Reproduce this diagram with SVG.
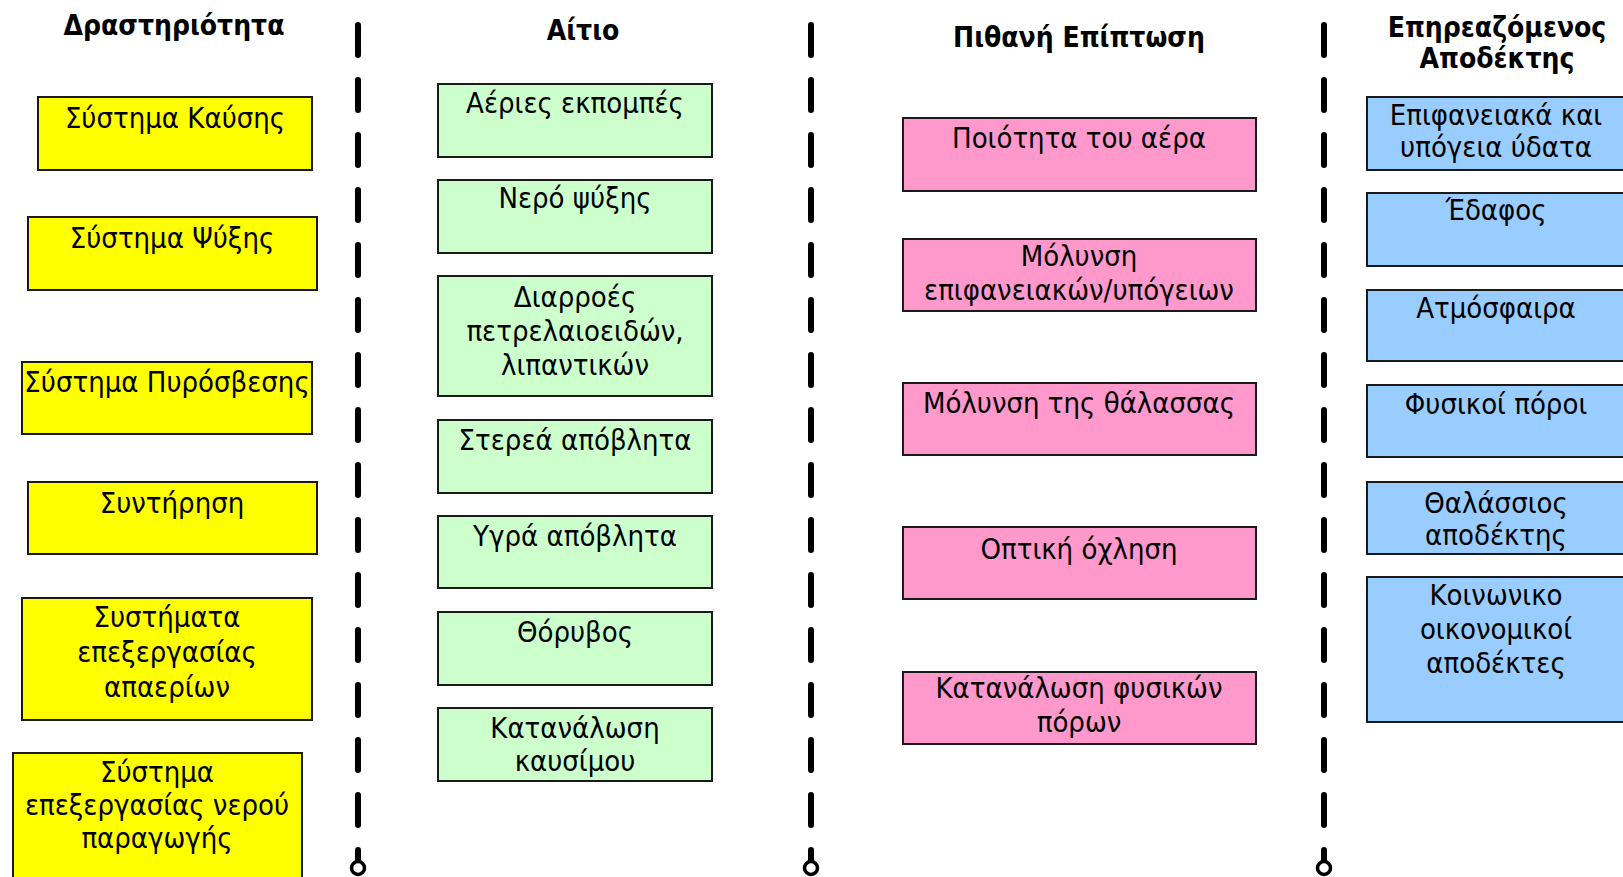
<svg xmlns="http://www.w3.org/2000/svg" width="1623" height="877" viewBox="0 0 1623 877">
  <style>
    text { font-family: "DejaVu Sans Condensed", "DejaVu Sans", Verdana, sans-serif; font-stretch: condensed; fill: #000; text-anchor: middle; }
    .head { font-size: 28px; font-weight: bold; }
    .lbl { font-size: 29px; }
    .box { stroke: #1a1a1a; stroke-width: 2; }
    .act { fill: #ffff00; }
    .cause { fill: #ccffcc; }
    .impact { fill: #ff99cc; }
    .recv { fill: #99ccff; }
    .sep { stroke: #000; stroke-width: 6; stroke-linecap: round; stroke-dasharray: 30 25; fill: none; }
    .end { stroke: #000; stroke-width: 3.5; fill: #fff; }
  </style>
  <rect width="1623" height="877" fill="#fff"/>

  <!-- column separators -->
  <g id="connectors">
    <line class="sep" x1="358" y1="25" x2="358" y2="860"/>
    <circle class="end" cx="358" cy="868" r="6.5"/>
    <line class="sep" x1="811" y1="25" x2="811" y2="860"/>
    <circle class="end" cx="811" cy="868" r="6.5"/>
    <line class="sep" x1="1324" y1="25" x2="1324" y2="860"/>
    <circle class="end" cx="1324" cy="868" r="6.5"/>
  </g>

  <!-- column headings -->
  <g id="headings">
    <text class="head" x="174" y="35">Δραστηριότητα</text>
    <text class="head" x="583" y="40">Αίτιο</text>
    <text class="head" x="1079" y="47">Πιθανή Επίπτωση</text>
    <text class="head" x="1497" y="37">Επηρεαζόμενος</text>
    <text class="head" x="1497" y="68">Αποδέκτης</text>
  </g>

  <!-- activities -->
  <g id="act1"><rect class="box act" x="38" y="97" width="274" height="73"/><text class="lbl" x="175" y="128">Σύστημα Καύσης</text></g>
  <g id="act2"><rect class="box act" x="28" y="217" width="289" height="73"/><text class="lbl" x="172" y="248">Σύστημα Ψύξης</text></g>
  <g id="act3"><rect class="box act" x="22" y="362" width="290" height="72"/><text class="lbl" x="167" y="392">Σύστημα Πυρόσβεσης</text></g>
  <g id="act4"><rect class="box act" x="28" y="482" width="289" height="72"/><text class="lbl" x="172" y="513">Συντήρηση</text></g>
  <g id="act5"><rect class="box act" x="22" y="598" width="290" height="122"/>
    <text class="lbl" x="167" y="627">Συστήματα</text>
    <text class="lbl" x="167" y="662">επεξεργασίας</text>
    <text class="lbl" x="167" y="697">απαερίων</text></g>
  <g id="act6"><rect class="box act" x="13" y="753" width="289" height="130"/>
    <text class="lbl" x="157" y="782">Σύστημα</text>
    <text class="lbl" x="157" y="815">επεξεργασίας νερού</text>
    <text class="lbl" x="157" y="848">παραγωγής</text></g>

  <!-- causes -->
  <g id="cause1"><rect class="box cause" x="438" y="84" width="274" height="73"/><text class="lbl" x="575" y="113">Αέριες εκπομπές</text></g>
  <g id="cause2"><rect class="box cause" x="438" y="180" width="274" height="73"/><text class="lbl" x="575" y="208">Νερό ψύξης</text></g>
  <g id="cause3"><rect class="box cause" x="438" y="276" width="274" height="120"/>
    <text class="lbl" x="575" y="307">Διαρροές</text>
    <text class="lbl" x="575" y="341">πετρελαιοειδών,</text>
    <text class="lbl" x="575" y="375">λιπαντικών</text></g>
  <g id="cause4"><rect class="box cause" x="438" y="420" width="274" height="73"/><text class="lbl" x="575" y="450">Στερεά απόβλητα</text></g>
  <g id="cause5"><rect class="box cause" x="438" y="516" width="274" height="72"/><text class="lbl" x="575" y="546">Υγρά απόβλητα</text></g>
  <g id="cause6"><rect class="box cause" x="438" y="612" width="274" height="73"/><text class="lbl" x="575" y="642">Θόρυβος</text></g>
  <g id="cause7"><rect class="box cause" x="438" y="708" width="274" height="73"/>
    <text class="lbl" x="575" y="738">Κατανάλωση</text>
    <text class="lbl" x="575" y="771">καυσίμου</text></g>

  <!-- possible impacts -->
  <g id="impact1"><rect class="box impact" x="903" y="118" width="353" height="73"/><text class="lbl" x="1079" y="148">Ποιότητα του αέρα</text></g>
  <g id="impact2"><rect class="box impact" x="903" y="239" width="353" height="72"/>
    <text class="lbl" x="1079" y="266">Μόλυνση</text>
    <text class="lbl" x="1079" y="300">επιφανειακών/υπόγειων</text></g>
  <g id="impact3"><rect class="box impact" x="903" y="383" width="353" height="72"/><text class="lbl" x="1079" y="413">Μόλυνση της θάλασσας</text></g>
  <g id="impact4"><rect class="box impact" x="903" y="527" width="353" height="72"/><text class="lbl" x="1079" y="559">Οπτική όχληση</text></g>
  <g id="impact5"><rect class="box impact" x="903" y="672" width="353" height="72"/>
    <text class="lbl" x="1079" y="698">Κατανάλωση φυσικών</text>
    <text class="lbl" x="1079" y="732">πόρων</text></g>

  <!-- affected receptors -->
  <g id="recv1"><rect class="box recv" x="1367" y="97" width="262" height="73"/>
    <text class="lbl" x="1496" y="125">Επιφανειακά και</text>
    <text class="lbl" x="1496" y="157">υπόγεια ύδατα</text></g>
  <g id="recv2"><rect class="box recv" x="1367" y="193" width="262" height="73"/><text class="lbl" x="1496" y="220">Έδαφος</text></g>
  <g id="recv3"><rect class="box recv" x="1367" y="290" width="262" height="71"/><text class="lbl" x="1496" y="318">Ατμόσφαιρα</text></g>
  <g id="recv4"><rect class="box recv" x="1367" y="385" width="262" height="72"/><text class="lbl" x="1496" y="414">Φυσικοί πόροι</text></g>
  <g id="recv5"><rect class="box recv" x="1367" y="482" width="262" height="72"/>
    <text class="lbl" x="1496" y="513">Θαλάσσιος</text>
    <text class="lbl" x="1496" y="545">αποδέκτης</text></g>
  <g id="recv6"><rect class="box recv" x="1367" y="577" width="262" height="145"/>
    <text class="lbl" x="1496" y="605">Κοινωνικο</text>
    <text class="lbl" x="1496" y="639">οικονομικοί</text>
    <text class="lbl" x="1496" y="673">αποδέκτες</text></g>
</svg>
